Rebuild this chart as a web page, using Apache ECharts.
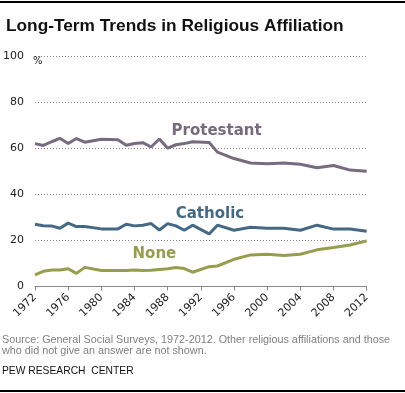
<!DOCTYPE html>
<html><head><meta charset="utf-8">
<script src="https://cdn.jsdelivr.net/npm/echarts@6/dist/echarts.min.js"></script>
<style>html,body{margin:0;padding:0;background:#fff}#c{width:405px;height:393px}</style>
</head><body><div id="c"></div>
<script>
var years = [1972,1973,1974,1975,1976,1977,1978,1980,1982,1983,1984,1985,1986,1987,1988,1989,1990,1991,1993,1994,1996,1998,2000,2002,2004,2006,2008,2010,2012];
var protestant = [62,61.2,62.8,64.3,62,64.2,62.6,63.9,63.7,61.3,62,62.4,60.5,64,60,61.5,62,62.8,62.5,58.3,55.5,53.6,53.3,53.6,53,51.5,52.5,50.5,50];
var catholic = [27,26.4,26.3,25.3,27.5,26,26,25,25,27,26.3,26.6,27.3,24.5,27.3,26.3,24.4,26.6,22.8,26.6,24.4,25.7,25.3,25.3,24.4,26.6,24.9,24.9,24];
var none = [5,6.6,7.2,7.2,7.7,5.7,8.3,6.9,6.9,6.9,7.2,6.9,7,7.4,7.7,8.2,7.8,6.2,8.6,8.9,11.8,13.7,14,13.5,14,15.9,16.9,18,19.8];
var seriesNames = ['Protestant','Catholic','None'];
var seriesColors = ['#776b80','#456984','#969e4e'];
var nameLabelAt = [[1993.9,67.6],[1993.1,31.5],[1986.4,14.1]];
var yTicks = [0,20,40,60,80,100];
var xTicks = [1972,1976,1980,1984,1988,1992,1996,2000,2004,2008,2012];

var font = 'DejaVu Sans';
function buildSeries(name, vals, color, labelAt){
  var data = years.map(function(y,i){
    var d = {value:[y, vals[i]]};
    if(i===0){
      d.label = {show:true, position:'top', align:'left', distance:3, offset:[-3,0],
        formatter:function(p){return Math.round(p.value[1]);}, color:'#000', fontFamily:font, fontSize:12};
    } else if(i===years.length-1){
      d.label = {show:true, position:'right', distance:8,
        formatter:function(p){return Math.round(p.value[1]);}, color:'#000', fontFamily:font, fontSize:12};
    }
    return d;
  });
  return {
    name:name, type:'line', data:data, symbol:'none', showSymbol:false,
    lineStyle:{color:color, width:3}, itemStyle:{color:color},
    animation:false, silent:true,
    markPoint:{symbol:'circle', symbolSize:0, silent:true, animation:false,
      data:[{coord:labelAt, value:name}],
      label:{show:true, position:'inside', formatter:name, color:color, fontFamily:font, fontWeight:'bold', fontSize:15}}
  };
}
var chart = echarts.init(document.getElementById('c'), null, {renderer:'canvas'});
chart.setOption({
  animation:false,
  backgroundColor:'#fff',
  title:{text:'Long-Term Trends in Religious Affiliation', left:1, top:13,
    textStyle:{fontFamily:'Liberation Sans', fontWeight:'bold', fontSize:17.3, color:'#111'}},
  grid:{left:33.3, right:38.3, top:56, bottom:106.5},
  xAxis:{type:'value', min:1972, max:2012, interval:4,
    axisLine:{show:true, lineStyle:{color:'#8a8a8a', width:1}},
    axisTick:{show:true, inside:false, length:4, lineStyle:{color:'#8a8a8a'}},
    splitLine:{show:false},
    axisLabel:{rotate:45, margin:9, align:'right', verticalAlign:'middle', fontFamily:font, fontSize:11, color:'#222',
      formatter:function(v){return xTicks.indexOf(v)>=0 ? String(v) : '';}}},
  yAxis:{type:'value', min:0, max:100, interval:20,
    name:'%', nameLocation:'end', nameGap:-5,
    nameTextStyle:{align:'left', verticalAlign:'middle', fontFamily:font, fontSize:10, color:'#222', padding:[0,0,0,-2]},
    axisLine:{show:false}, axisTick:{show:false},
    splitLine:{show:true, lineStyle:{color:'#888', type:[1,2], width:1}},
    axisLabel:{margin:11, fontFamily:font, fontSize:11, color:'#222',
      formatter:function(v){return yTicks.indexOf(v)>=0 ? String(v) : '';}}},
  series:[
    buildSeries(seriesNames[0], protestant, seriesColors[0], nameLabelAt[0]),
    buildSeries(seriesNames[1], catholic, seriesColors[1], nameLabelAt[1]),
    buildSeries(seriesNames[2], none, seriesColors[2], nameLabelAt[2])
  ],
  graphic:[
    {type:'rect', left:0, top:1, shape:{width:405, height:2}, style:{fill:'#000'}},
    {type:'rect', left:0, top:390, shape:{width:405, height:2}, style:{fill:'#000'}},
    {type:'text', left:2, top:335, style:{text:'Source: General Social Surveys, 1972-2012. Other religious affiliations and those', fontFamily:'Liberation Sans', fontSize:10.8, fill:'#808080'}},
    {type:'text', left:2, top:346, style:{text:'who did not give an answer are not shown.', fontFamily:'Liberation Sans', fontSize:10.8, fill:'#808080'}},
    {type:'text', left:2, top:366, style:{text:'PEW RESEARCH  CENTER', fontFamily:'Liberation Sans', fontSize:10.3, fill:'#111'}}
  ]
});
</script></body></html>
